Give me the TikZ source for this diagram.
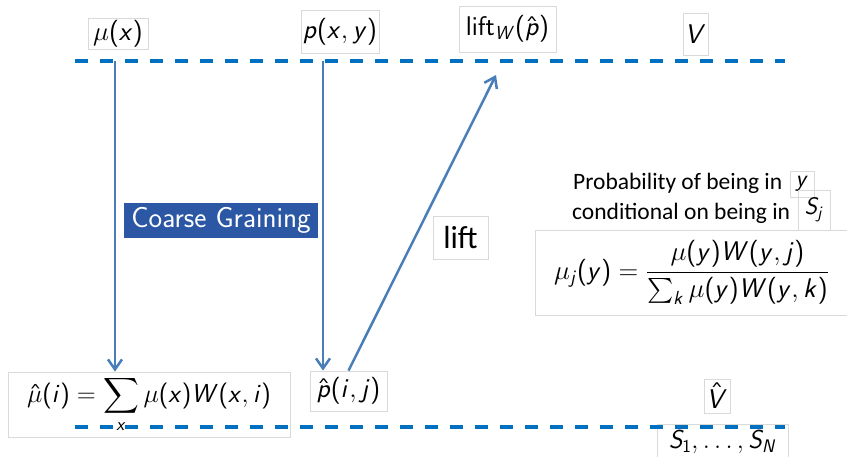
\RequirePackage{fix-cm}
\documentclass[tikz,border=0pt]{standalone}
\usepackage{amsmath}
\usepackage[no-math]{fontspec}
\newfontfamily\calibri{Carlito}
\DeclareSymbolFont{sfletters}{OT1}{cmss}{m}{sl}
\SetSymbolFont{operators}{normal}{OT1}{cmss}{m}{n}
\DeclareMathSymbol{x}{\mathalpha}{sfletters}{`x}
\DeclareMathSymbol{y}{\mathalpha}{sfletters}{`y}
\DeclareMathSymbol{p}{\mathalpha}{sfletters}{`p}
\DeclareMathSymbol{i}{\mathalpha}{sfletters}{`i}
\DeclareMathSymbol{j}{\mathalpha}{sfletters}{`j}
\DeclareMathSymbol{k}{\mathalpha}{sfletters}{`k}
\DeclareMathSymbol{W}{\mathalpha}{sfletters}{`W}
\DeclareMathSymbol{V}{\mathalpha}{sfletters}{`V}
\DeclareMathSymbol{S}{\mathalpha}{sfletters}{`S}
\DeclareMathSymbol{N}{\mathalpha}{sfletters}{`N}
\usetikzlibrary{arrows.meta}
\definecolor{boxgray}{RGB}{217,217,217}
\definecolor{dashblue}{RGB}{0,112,192}
\definecolor{arrblue}{RGB}{74,126,187}
\definecolor{cgblue}{RGB}{43,87,165}
\tikzset{
  lbl/.style={draw=boxgray, line width=0.8pt, inner sep=0pt, anchor=center,
    font=\fontsize{27}{30}\selectfont},
  level/.style={draw=dashblue, line width=4pt, dash pattern=on 13pt off 12pt},
  arr/.style={draw=arrblue, line width=2.5pt, -{Straight Barb[length=10pt,width=14pt,line width=2.5pt]}},
  ptext/.style={inner sep=0pt, anchor=base west, font=\fontsize{23.5}{27}\selectfont\calibri}
}
\begin{document}
\begin{tikzpicture}[x=1pt,y=-1pt]
\useasboundingbox (0,0) rectangle (847,457);
% top labels
\node[lbl, minimum width=60, minimum height=31] (mux) at (118,33.5) {$\mu(x)$};
\node[lbl, minimum width=78, minimum height=43] (pxy) at (340,31.5) {$p(x,y)$};
\node[lbl, minimum width=97, minimum height=46] (liftw) at (507.5,29) {$\operatorname{lift}_W(\hat{p})$};
\node[lbl, minimum width=25, minimum height=42] (V) at (695.5,34) {$V$};
% bottom labels
\node[lbl, minimum width=282, minimum height=65, font=\fontsize{26}{30}\selectfont] (muhat) at (149,404.5)
  {$\displaystyle \hat{\mu}(i)=\sum_{x}\mu(x)W(x,i)$};
\node[lbl, minimum width=77, minimum height=40] (phat) at (348.5,391) {$\hat{p}(i,j)$};
\node[lbl, minimum width=26, minimum height=34] (Vhat) at (717,396) {$\hat{V}$};
\node[lbl, minimum width=131, minimum height=36, font=\fontsize{26}{30}\selectfont] (S) at (722.5,442) {$S_1,\dots,S_N$};
% middle
\node[fill=cgblue, text=white, inner sep=0pt, minimum width=194, minimum height=35,
  font=\fontsize{29}{32}\selectfont\sffamily] (cg) at (221,220.5) {Coarse Graining};
\node[lbl, minimum width=55, minimum height=43, font=\fontsize{32}{36}\selectfont\calibri] (lift) at (460.5,237.5) {lift};
\node[ptext] (p1) at (573,190) {Probability of being in};
\node[ptext] (p2) at (572,220) {conditional on being in};
\node[lbl, minimum width=24, minimum height=26, font=\fontsize{24}{28}\selectfont] (ybox) at (802,184) {$y$};
\node[lbl, minimum width=32, minimum height=40, font=\fontsize{24}{28}\selectfont] (Sj) at (814,210) {$S_j$};
\node[lbl, minimum width=325, minimum height=85, font=\fontsize{27}{31}\selectfont] (form) at (697.5,272.5)
  {$\displaystyle \mu_j(y)=\frac{\mu(y)W(y,j)}{\sum\nolimits_k \mu(y)W(y,k)}$\hspace*{12pt}};
% level lines
\coordinate (tl) at (75,61);
\coordinate (tr) at (785,61);
\coordinate (bl) at (75,427);
\coordinate (br) at (785,427);
\draw[level] (tl) -- (tr);
\draw[level] (bl) -- (br);
% arrows
\coordinate (a1) at (115,61);
\coordinate (a2) at (323,61);
\coordinate (a3) at (496,75);
\draw[arr] (a1) -- (a1 |- muhat.north);
\draw[arr] (a2) -- (a2 |- phat.north);
\draw[arr] (phat.north) -- (a3);
\end{tikzpicture}
\end{document}
